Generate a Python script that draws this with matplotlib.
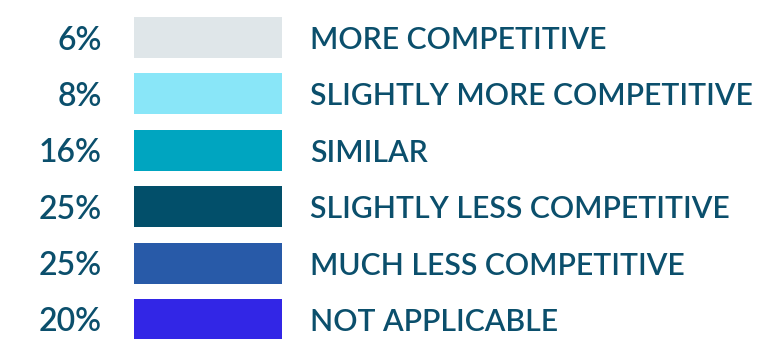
import matplotlib
matplotlib.use("Agg")
import matplotlib.pyplot as plt

# Survey response categories and their shares (%)
categories = [
    "MORE COMPETITIVE",
    "SLIGHTLY MORE COMPETITIVE",
    "SIMILAR",
    "SLIGHTLY LESS COMPETITIVE",
    "MUCH LESS COMPETITIVE",
    "NOT APPLICABLE",
]
shares = [6, 8, 16, 25, 25, 20]
colors = ["#dfe6e9", "#89e6f8", "#00a5c0", "#024f6a", "#285aa8", "#3226e6"]

text_color = "#0b4f6c"
W, H = 765, 339

fig = plt.figure(figsize=(W / 100, H / 100), dpi=100)
ax = fig.add_axes([0, 0, 1, 1])
ax.set_xlim(0, W)
# rows spaced ~56.4 px apart, first row centred at 37.5 px from the top
pitch, first = 56.4, 37.5
ax.set_ylim((H - first) / pitch, -first / pitch)
ax.axis("off")

rows = list(range(len(categories)))
# colour swatches (equal size, key style)
ax.barh(rows, [148] * len(rows), left=134, height=41 / pitch,
        color=colors, edgecolor="none")

style = dict(family="Lato", color=text_color, fontweight="semibold",
             va="center_baseline")
for i, (cat, val) in enumerate(zip(categories, shares)):
    ax.text(102, i, f"{val}%", ha="right", fontsize=23, **style)
    ax.text(310, i, cat, ha="left", fontsize=21.7, **style)

fig.savefig("out.png", dpi=100)
